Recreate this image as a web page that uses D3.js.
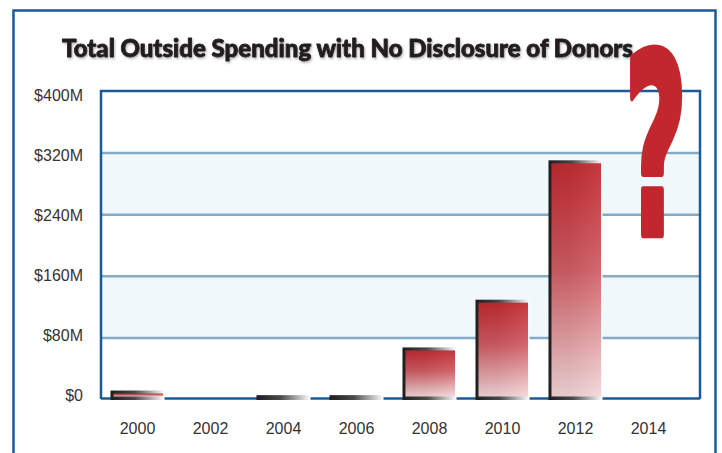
<!DOCTYPE html>
<html>
<head>
<meta charset="utf-8">
<script src="https://cdn.jsdelivr.net/npm/d3@7/dist/d3.min.js"></script>
<style>
  html, body { margin: 0; padding: 0; background: #fff; }
  svg { display: block; }
</style>
</head>
<body>
<div id="container"></div>
<script>
// Données
const years = ["2000", "2002", "2004", "2006", "2008", "2010", "2012", "2014"];
const spending = [11, 0, 5, 5, 67, 129, 310, 0]; // millions de dollars
const yTicks = [0, 80, 160, 240, 320, 400];
const yTickLabels = ["$0", "$80M", "$160M", "$240M", "$320M", "$400M"];

// Dimensions
const width = 722;
const height = 453;
const plot = { left: 101, right: 700, top: 91, bottom: 399 };

const svg = d3.select("#container")
    .append("svg")
    .attr("width", width)
    .attr("height", height);

const defs = svg.append("defs");

// Dégradé rouge des barres (vertical)
const redGrad = defs.append("linearGradient")
    .attr("id", "redGrad")
    .attr("x1", 0).attr("y1", 0).attr("x2", 0).attr("y2", 1);
redGrad.append("stop").attr("offset", "0%").attr("stop-color", "#c1272d");
redGrad.append("stop").attr("offset", "45%").attr("stop-color", "#cf5a61");
redGrad.append("stop").attr("offset", "100%").attr("stop-color", "#f3d8da");

// Cadre sombre des barres (horizontal)
const frameGrad = defs.append("linearGradient")
    .attr("id", "frameGrad")
    .attr("x1", 0).attr("y1", 0).attr("x2", 1).attr("y2", 0);
frameGrad.append("stop").attr("offset", "0%").attr("stop-color", "#1e1e1e");
frameGrad.append("stop").attr("offset", "45%").attr("stop-color", "#4a4a4a");
frameGrad.append("stop").attr("offset", "100%").attr("stop-color", "#ffffff");

// Ombre du titre
const shadow = defs.append("filter").attr("id", "titleShadow")
    .attr("x", "-5%").attr("y", "-30%").attr("width", "110%").attr("height", "160%");
shadow.append("feDropShadow")
    .attr("dx", 1).attr("dy", 1.5).attr("stdDeviation", 1)
    .attr("flood-color", "#777").attr("flood-opacity", 0.55);

// Échelles
const xScale = d3.scaleBand()
    .domain(years)
    .range([plot.left, 685])
    .paddingInner(0.26)
    .paddingOuter(0.13);

const yScale = d3.scaleLinear()
    .domain([0, 400])
    .range([plot.bottom, plot.top]);

// Les étiquettes de l'axe y sont un peu plus serrées que la grille
const yLabelScale = d3.scaleLinear()
    .domain([0, 400])
    .range([395, 95]);

// Cadre extérieur
svg.append("rect")
    .attr("x", 13.5).attr("y", 10.5)
    .attr("width", 702).attr("height", 460)
    .attr("fill", "none")
    .attr("stroke", "#1c5a96")
    .attr("stroke-width", 2.5);

// Bandes bleu pâle
const bands = d3.pairs(yTicks).filter((d, i) => i % 2 === 1);
svg.selectAll(".band")
    .data(bands)
    .enter()
    .append("rect")
    .attr("class", "band")
    .attr("x", plot.left)
    .attr("width", plot.right - plot.left)
    .attr("y", d => yScale(d[1]))
    .attr("height", d => yScale(d[0]) - yScale(d[1]))
    .attr("fill", "#f0f8fc");

// Lignes de grille
svg.append("g")
    .attr("class", "grid")
    .attr("transform", `translate(${plot.left},0)`)
    .call(d3.axisRight(yScale)
        .tickValues(yTicks.slice(1, -1))
        .tickSize(plot.right - plot.left)
        .tickFormat(""))
    .call(g => g.select(".domain").remove())
    .call(g => g.selectAll("line")
        .attr("stroke", "#84aac8")
        .attr("stroke-width", 2.5));

// Cadre de la zone de tracé
svg.append("path")
    .attr("d", `M${plot.left},${plot.bottom} V${plot.top} H${plot.right} V${plot.bottom}`)
    .attr("fill", "none")
    .attr("stroke", "#1c5a96")
    .attr("stroke-width", 2.5);

// Axe x (ligne de base et années), sous les barres
svg.append("g")
    .attr("class", "x-axis")
    .attr("transform", `translate(0,${plot.bottom - 0.5})`)
    .call(d3.axisBottom(xScale).tickSize(0).tickPadding(24))
    .call(g => g.select(".domain")
        .attr("d", `M${plot.left},0H${plot.right}`)
        .attr("stroke", "#1c5a96")
        .attr("stroke-width", 2.5))
    .call(g => g.selectAll("text")
        .attr("fill", "#333")
        .style("font-family", "'Liberation Sans', Arial, sans-serif")
        .style("font-size", "16px"));

// Barres : cadre sombre puis remplissage rouge
const bars = svg.selectAll(".bar")
    .data(years.map((y, i) => ({ year: y, value: spending[i] })).filter(d => d.value > 0))
    .enter()
    .append("g")
    .attr("class", "bar");

bars.append("rect")
    .attr("x", d => xScale(d.year))
    .attr("y", d => yScale(d.value))
    .attr("width", xScale.bandwidth())
    .attr("height", d => plot.bottom + 1 - yScale(d.value))
    .attr("fill", "url(#frameGrad)");

bars.append("rect")
    .attr("x", d => xScale(d.year) + 3)
    .attr("y", d => yScale(d.value) + 3)
    .attr("width", xScale.bandwidth() - 4.5)
    .attr("height", d => Math.max(0, plot.bottom - 2.5 - yScale(d.value) - 3))
    .attr("fill", "url(#redGrad)")
    .attr("opacity", 0.92);

// Axe y (étiquettes)
svg.append("g")
    .attr("class", "y-axis")
    .attr("transform", `translate(83,0)`)
    .call(d3.axisLeft(yLabelScale)
        .tickValues(yTicks)
        .tickSize(0)
        .tickPadding(0)
        .tickFormat((d, i) => yTickLabels[i]))
    .call(g => g.select(".domain").remove())
    .call(g => g.selectAll("text")
        .attr("fill", "#333")
        .style("font-family", "'Liberation Sans', Arial, sans-serif")
        .style("font-size", "16px"));

// Titre
svg.append("text")
    .attr("x", 62)
    .attr("y", 57)
    .attr("textLength", 571)
    .attr("lengthAdjust", "spacingAndGlyphs")
    .attr("fill", "#231f20")
    .attr("stroke", "#231f20")
    .attr("stroke-width", 0.9)
    .attr("stroke-linejoin", "round")
    .attr("filter", "url(#titleShadow)")
    .style("font-family", "Lato, 'Open Sans', sans-serif")
    .style("font-weight", "900")
    .style("font-size", "24px")
    .text("Total Outside Spending with No Disclosure of Donors");

// Grand point d'interrogation
svg.append("text")
    .attr("transform", "translate(656,234) scale(0.42,0.97)")
    .attr("text-anchor", "middle")
    .attr("fill", "#c1272d")
    .attr("stroke", "#c1272d")
    .attr("stroke-width", 9)
    .attr("stroke-linejoin", "round")
    .style("font-family", "'DejaVu Sans', sans-serif")
    .style("font-weight", "bold")
    .style("font-size", "258px")
    .text("?");
</script>
</body>
</html>
